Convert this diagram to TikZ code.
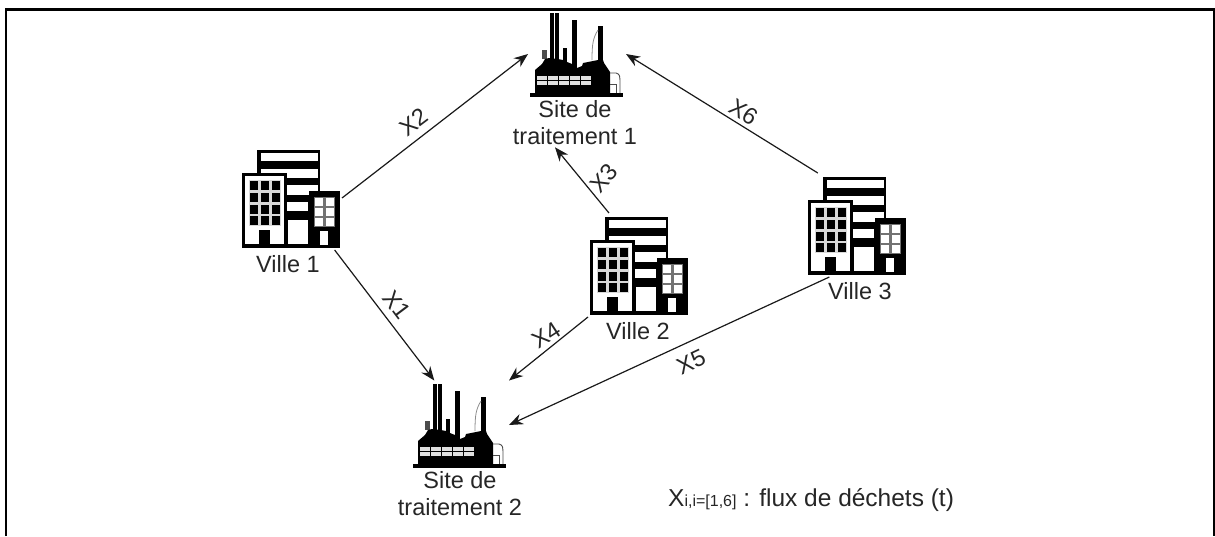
\documentclass[tikz,border=0pt]{standalone}
\usepackage{fontspec}
\setmainfont{Liberation Sans}
\usetikzlibrary{arrows.meta}
\tikzset{
  etiq/.style={inner sep=0pt,align=center,text=black!85,font=\fontsize{23.5}{27}\selectfont},
  bati/.style={minimum width=98pt,minimum height=100pt,inner sep=0pt,outer sep=2pt},
  usine/.style={minimum width=94pt,minimum height=85pt,inner sep=0pt,outer sep=2pt},
  flux/.style={->,line width=1.2pt,black!90},
  ville/.pic={
    \fill (15,2) rectangle (78,100);
    \fill[white] (19,5) rectangle (76,13);
    \fill[white] (19,21) rectangle (76,30);
    \fill[white] (45,37) rectangle (76,47);
    \fill[white] (45,54) rectangle (66,63);
    \fill[white] (46,72) rectangle (66,96);
    \fill (0,25) rectangle (45,100);
    \fill (67,43) rectangle (98,100);
    \fill[white] (3,28) rectangle (42,96);
    \fill[black!15] (7,32) rectangle (39,78);
    \foreach \u in {8,19,30}
      \foreach \v in {33,45,57,68}
        \fill (\u,\v) rectangle (\u+8,\v+9);
    \fill (17,82) rectangle (28,97);
    \fill[black!55] (72,49) rectangle (93,79);
    \foreach \u in {73,84}
      \foreach \v in {50,60,70}
        \fill[white] (\u,\v) rectangle (\u+8,\v+8);
    \fill[white] (78,83) rectangle (86,97);
  },
  site/.pic={
    \fill (0,81) rectangle (93,85);
    \fill (19.5,1) rectangle (24,50);
    \fill (25,1) rectangle (28.5,50);
    \fill (32.5,36) rectangle (37,55);
    \fill (42,8) rectangle (46.5,60);
    \fill (68,14) rectangle (72.5,55);
    \fill[black!70] (12,38) rectangle (17,47);
    \fill (5,82) -- (5,58) -- (12,52) -- (15,47) -- (19,46) -- (28,47) -- (33,48) -- (37,50)
      -- (42,52) -- (47,56) -- (52,54) -- (53,51) -- (68,48) -- (73,48) -- (74,51) -- (80,60) -- (80,83) -- cycle;
    \foreach \u in {7,18,29,40,51}
      \foreach \v in {64,69}
        \fill[black!12] (\u,\v) rectangle (\u+10,\v+4);
    \draw[black!70,line width=.9pt] (80,61) -- (86,61) .. controls (90,62) and (90,65) .. (90,68) -- (90,81);
    \draw[black!70,line width=.9pt] (80,72) -- (86,72) -- (86,81);
    \draw[black!45,line width=.8pt] (68,18) .. controls (63,26) and (62,32) .. (62,48);
  }
}
\begin{document}
\begin{tikzpicture}[x=1pt,y=-1pt,>={Stealth[length=14pt,width=11pt]}]
\useasboundingbox (0,0) rectangle (1215,536);
\draw[line width=2.6pt] (6,536) |- (1214.5,9.5) -- (1214.5,536);

% les villes
\foreach \n/\x/\y/\d in {1/242/148/46,2/590/215/48,3/808/175/52}{
  \pic at (\x,\y) {ville};
  \node[bati] (ville\n) at (\x+49,\y+50) {};
  \node[etiq] (nomville\n) at (\x+\d,\y+116) {Ville \n};
}

% les sites
\pic at (530,12) {site};
\node[usine] (site1) at (577,54) {};
\node[etiq] (nomsite1) at (575,123) {Site de\\traitement 1};
\pic at (413,383) {site};
\node[usine] (site2) at (460,425) {};
\node[etiq] (nomsite2) at (460,494) {Site de\\traitement 2};

\draw[flux] (ville1.east)--(site1.west);
\draw[flux] (ville1.310)--(site2.120);
\draw[flux] (ville2.120)--([xshift=-20pt,yshift=-2pt]nomsite1.south);
\draw[flux] (ville2.south west)--(site2.north east);
\draw[flux] (ville3.242)--(site2.east);
\draw[flux] (ville3.127)--(site1.east);

\node[etiq,rotate=-53] (x1) at (397,305) {X1};
\node[etiq,rotate=37] (x2) at (414,122) {X2};
\node[etiq,rotate=48] (x3) at (604,178) {X3};
\node[etiq,rotate=33] (x4) at (546,335) {X4};
\node[etiq,rotate=25] (x5) at (691,362) {X5};
\node[etiq,rotate=-32] (x6) at (744,112) {X6};

\node[etiq,anchor=west,font=\fontsize{24.5}{26}\selectfont] (legende) at (668,500) {X{\fontsize{16}{16}\selectfont i,i=[1,6]} : flux de déchets (t)};
\end{tikzpicture}
\end{document}
